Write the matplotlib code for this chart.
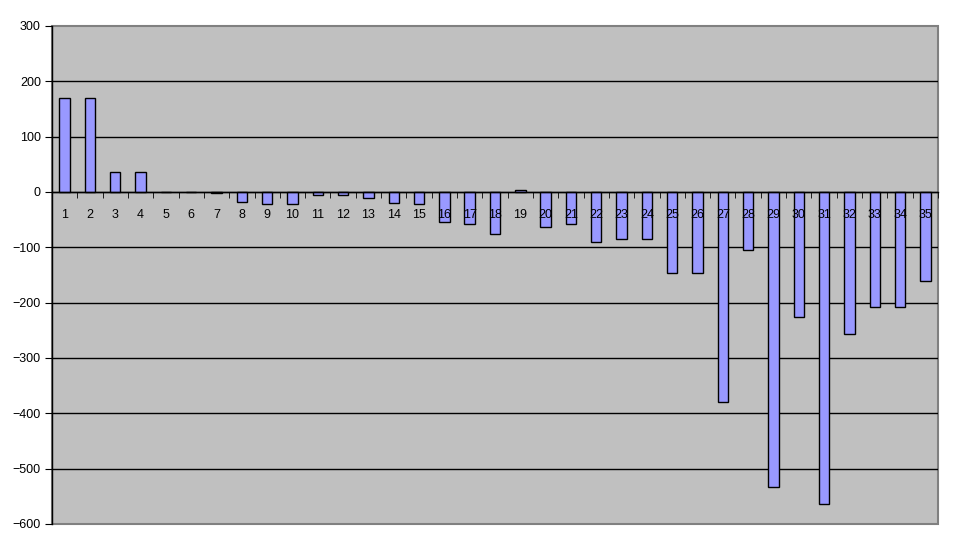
import matplotlib.pyplot as plt
import numpy as np

# values
categories = [str(i) for i in range(1, 36)]
values = [170, 170, 36, 36, 0, 0, -2, -18, -22, -22,
          -6, -6, -10, -20, -22, -55, -58, -75, 4, -64,
          -57, -91, -85, -85, -147, -147, -380, -104, -534, -226,
          -564, -257, -208, -208, -161]
yticks = [-600, -500, -400, -300, -200, -100, 0, 100, 200, 300]

plt.rcParams['font.family'] = ['Liberation Sans', 'DejaVu Sans']

fig = plt.figure(figsize=(9.54, 5.52), dpi=100)
ax = fig.add_axes([52 / 954, 28 / 552, 886 / 954, 498 / 552])

x = np.arange(len(categories))
ax.set_facecolor('#C0C0C0')
ax.patch.set_edgecolor('#808080')
ax.patch.set_linewidth(1.5)

# horizontal gridlines
for t in yticks[1:-1]:
    ax.axhline(t, color='black', linewidth=1, zorder=1)

ax.bar(x, values, width=0.41, color='#9999FF', edgecolor='black',
       linewidth=1, zorder=2)

ax.set_xlim(-0.5, len(categories) - 0.5)
ax.set_ylim(-600, 300)
ax.set_axisbelow(False)  # tick labels drawn over the bars

# category axis sits at zero
ax.spines['bottom'].set_position(('data', 0))
ax.spines['bottom'].set_zorder(3)
ax.spines['top'].set_visible(False)
ax.spines['right'].set_visible(False)
for s in ['left', 'bottom']:
    ax.spines[s].set_color('black')
    ax.spines[s].set_linewidth(1)

ax.set_xticks(x)
ax.set_xticklabels(categories)
ax.set_xticks(np.arange(-0.5, len(categories)), minor=True)
ax.tick_params(axis='x', which='major', length=0, pad=12, labelsize=9)
ax.tick_params(axis='x', which='minor', length=4, direction='out',
               color='black')

ax.set_yticks(yticks)
ax.tick_params(axis='y', length=5, direction='out', labelsize=9, pad=3)

fig.savefig('out.png', dpi=100)
